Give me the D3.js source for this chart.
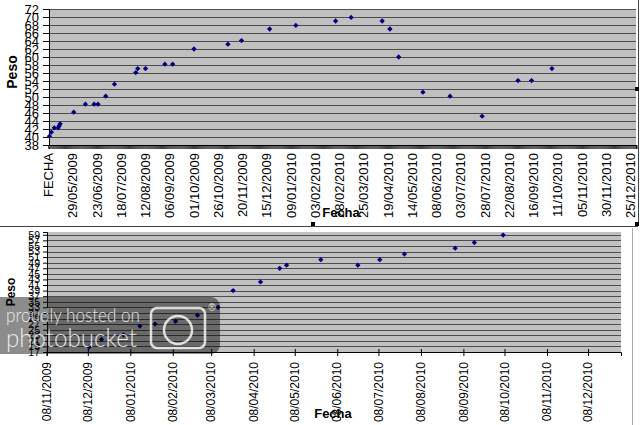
<!DOCTYPE html>
<html><head><meta charset="utf-8">
<script src="https://cdn.jsdelivr.net/npm/d3@7"></script>
<style>
html,body{margin:0;padding:0;background:#fff;}
svg{display:block;font-family:"Liberation Sans",Arial,sans-serif;}
</style></head>
<body><svg id="c" width="640" height="425"></svg>
<script>
// ---------- DATA ----------
const topXTickLabels = ["FECHA","29/05/2009","23/06/2009","18/07/2009","12/08/2009","06/09/2009","01/10/2009","26/10/2009","20/11/2009","15/12/2009","09/01/2010","03/02/2010","28/02/2010","25/03/2010","19/04/2010","14/05/2010","08/06/2010","03/07/2010","28/07/2010","22/08/2010","16/09/2010","11/10/2010","05/11/2010","30/11/2010","25/12/2010"];
const topYTicks = [38,40,42,44,46,48,50,52,54,56,58,60,62,64,66,68,70,72];
const topDates = ["05/05/2009","07/05/2009","10/05/2009","14/05/2009","15/05/2009","16/05/2009","30/05/2009","11/06/2009","20/06/2009","24/06/2009","02/07/2009","11/07/2009","02/08/2009","04/08/2009","12/08/2009","01/09/2009","09/09/2009","01/10/2009","05/11/2009","19/11/2009","18/12/2009","14/01/2010","24/02/2010","12/03/2010","13/04/2010","21/04/2010","30/04/2010","25/05/2010","22/06/2010","25/07/2010","31/08/2010","14/09/2010","05/10/2010"];
const topWeights = [40.2,41.2,42.3,42.3,42.8,43.3,46.2,48.2,48.2,48.2,50.2,53.2,56.1,57.1,57.1,58.2,58.2,62.0,63.2,64.1,67.0,67.9,69.0,69.9,69.0,67.0,60.0,51.2,50.2,45.2,54.1,54.1,57.1];

const botXTickLabels = ["08/11/2009","08/12/2009","08/01/2010","08/02/2010","08/03/2010","08/04/2010","08/05/2010","08/06/2010","08/07/2010","08/08/2010","08/09/2010","08/10/2010","08/11/2010","08/12/2010"];
const botYTicks = [17,19,21,23,25,27,29,31,33,35,37,39,41,43,45,47,49,51,53,55,57,59];
const botDates = ["09/12/2009","18/12/2009","03/01/2010","15/01/2010","26/01/2010","10/02/2010","26/02/2010","13/03/2010","24/03/2010","13/04/2010","27/04/2010","02/05/2010","27/05/2010","23/06/2010","09/07/2010","27/07/2010","02/09/2010","16/09/2010","07/10/2010"];
const botValues = [18.8,21.5,23.1,26.3,27.0,28.0,30.2,33.0,39.0,42.1,47.0,48.1,50.1,48.1,50.1,52.1,54.2,56.2,58.9];

// ---------- HELPERS ----------
const parse = d3.timeParse("%d/%m/%Y");
const svg = d3.select("#c");
const FONT = '"Liberation Sans",Arial,sans-serif';
const gridCol = "#4d4d4d", plotFill = "#c0c0c0", markCol = "#000080";
const diamond = d3.symbol().type(d3.symbolSquare).size(14);

// ---------- TOP CHART ----------
const catBase = new Date(2009,4,4);          // category 0 = "FECHA"
const catIndex = s => s === "FECHA" ? 0 : d3.timeDay.count(catBase, parse(s));
const nCat = 606;
const tL = 49, tR = 636, tT = 9, tB = 145;
const xTop = d3.scaleLinear().domain([0, nCat]).range([48.5, 48.5 + nCat*0.97]);
const yTop = d3.scaleLinear().domain([38,72]).range([tB, tT]);

const gT = svg.append("g");
gT.append("rect").attr("x",tL).attr("y",tT).attr("width",tR-tL).attr("height",tB-tT).attr("fill",plotFill);
gT.selectAll("line.grid").data(topYTicks.filter(v=>v>38)).join("line")
  .attr("x1",tL).attr("x2",tR).attr("y1",d=>Math.round(yTop(d))+0.5).attr("y2",d=>Math.round(yTop(d))+0.5)
  .attr("stroke",gridCol).attr("stroke-width",1);

const yAxT = gT.append("g").attr("transform",`translate(${tL},0)`)
  .call(d3.axisLeft(yTop).tickValues(topYTicks).tickSize(6).tickPadding(4).tickFormat(d3.format("d")));
yAxT.select(".domain").attr("stroke","#000");
yAxT.selectAll("line").attr("stroke","#000");
yAxT.selectAll("text").attr("font-size",13).attr("font-family",FONT).attr("fill","#000");

const xAxT = gT.append("g").attr("transform",`translate(0,${tB})`)
  .call(d3.axisBottom(xTop).tickValues(d3.range(0,nCat+1)).tickSize(4).tickFormat(""));
xAxT.select(".domain").attr("stroke","#000");
xAxT.selectAll(".tick line").attr("stroke","#000").attr("stroke-width",0.75);

gT.selectAll("text.xl").data(topXTickLabels).join("text")
  .attr("transform",d=>`translate(${xTop(catIndex(d))},153) rotate(-90)`)
  .attr("text-anchor","end").attr("dy","0.35em")
  .attr("font-size",13).attr("fill","#000").text(d=>d);

gT.selectAll("path.pt").data(topDates.map((d,i)=>({i:catIndex(d), v:topWeights[i]}))).join("path")
  .attr("d",diamond).attr("fill",markCol)
  .attr("transform",d=>`translate(${xTop(d.i)},${yTop(d.v)}) rotate(45)`);

gT.append("text").attr("transform","translate(17,72) rotate(-90)").attr("text-anchor","middle")
  .attr("font-size",14).attr("font-weight","bold").text("Peso");
gT.append("text").attr("x",341).attr("y",217).attr("text-anchor","middle")
  .attr("font-size",13).attr("font-weight","bold").text("Fecha");

// top chart frame & handles
svg.append("line").attr("x1",0).attr("x2",638).attr("y1",226.5).attr("y2",226.5).attr("stroke","#444");
svg.append("line").attr("x1",638.5).attr("x2",638.5).attr("y1",0).attr("y2",226).attr("stroke","#444");
[[313,224],[637,224],[637,89]].forEach(p=>svg.append("rect").attr("x",p[0]-2).attr("y",p[1]-2).attr("width",4).attr("height",4).attr("fill","#000"));

// ---------- BOTTOM CHART ----------
const bL = 47, bR = 621, bT = 232, bB = 352;
const xBot = d3.scaleTime().domain([new Date(2009,10,8), new Date(2011,0,1)]).range([46.7, bR]);
const yBot = d3.scaleLinear().domain([17,60]).range([bB, bT]);
const gB = svg.append("g");
svg.append("line").attr("x1",632.5).attr("x2",632.5).attr("y1",228).attr("y2",425).attr("stroke","#aaa");
gB.append("rect").attr("x",bL).attr("y",bT).attr("width",bR-bL).attr("height",bB-bT).attr("fill",plotFill);
gB.selectAll("line.grid").data(botYTicks.filter(v=>v>17)).join("line")
  .attr("x1",bL).attr("x2",bR).attr("y1",d=>Math.round(yBot(d))+0.5).attr("y2",d=>Math.round(yBot(d))+0.5)
  .attr("stroke",gridCol).attr("stroke-width",1);

const yAxB = gB.append("g").attr("transform",`translate(${bL},0)`)
  .call(d3.axisLeft(yBot).tickValues(botYTicks).tickSize(4).tickPadding(3).tickFormat(d3.format("d")));
yAxB.select(".domain").attr("stroke","#000");
yAxB.selectAll("line").attr("stroke","#000");
yAxB.selectAll("text").attr("font-size",10.5).attr("font-family",FONT).attr("fill","#000");

const xAxB = gB.append("g").attr("transform",`translate(0,${bB})`)
  .call(d3.axisBottom(xBot).tickValues(botXTickLabels.map(parse)).tickSize(4).tickFormat(""));
xAxB.select(".domain").attr("stroke","#000");
xAxB.selectAll(".tick line").attr("y1",-3).attr("y2",4).attr("stroke","#000");

gB.selectAll("text.xl").data(botXTickLabels).join("text")
  .attr("transform",d=>`translate(${xBot(parse(d))},362) rotate(-90)`)
  .attr("text-anchor","end").attr("dy","0.35em")
  .attr("font-size",12).attr("fill","#000").text(d=>d);

gB.selectAll("path.pt").data(botDates.map((d,i)=>({d:parse(d), v:botValues[i]}))).join("path")
  .attr("d",diamond).attr("fill",markCol)
  .attr("transform",d=>`translate(${xBot(d.d)},${yBot(d.v)}) rotate(45)`);

gB.append("text").attr("transform","translate(15,292) rotate(-90)").attr("text-anchor","middle")
  .attr("font-size",12).attr("font-weight","bold").text("Peso");
gB.append("text").attr("x",333).attr("y",418).attr("text-anchor","middle")
  .attr("font-size",13).attr("font-weight","bold").text("Fecha");

// ---------- WATERMARK ----------
const wm = svg.append("g");
wm.append("rect").attr("x",-10).attr("y",297).attr("width",230).attr("height",57).attr("rx",9)
  .attr("fill","#000").attr("fill-opacity",0.45);
wm.append("text").attr("x",6).attr("y",322).attr("textLength",134).attr("lengthAdjust","spacingAndGlyphs")
  .attr("font-family","Lato, 'Open Sans', sans-serif").attr("font-weight",300).attr("font-size",19).attr("fill","#fff").attr("fill-opacity",0.85)
  .text("proudly hosted on");
wm.append("text").attr("x",6).attr("y",347).attr("textLength",131).attr("lengthAdjust","spacingAndGlyphs")
  .attr("font-family","Lato, 'Open Sans', sans-serif").attr("font-weight",300).attr("font-size",26).attr("fill","#fff").attr("fill-opacity",0.85)
  .text("photobucket");
wm.append("rect").attr("x",151).attr("y",308).attr("width",54).attr("height",40).attr("rx",6)
  .attr("fill","none").attr("stroke","#fff").attr("stroke-opacity",0.8).attr("stroke-width",2.5);
wm.append("circle").attr("cx",178).attr("cy",330).attr("r",14)
  .attr("fill","none").attr("stroke","#fff").attr("stroke-opacity",0.8).attr("stroke-width",2.5);
wm.append("text").attr("x",212).attr("y",311).attr("text-anchor","middle").attr("font-size",10)
  .attr("fill","#fff").attr("fill-opacity",0.85).text("®");
</script></body></html>
